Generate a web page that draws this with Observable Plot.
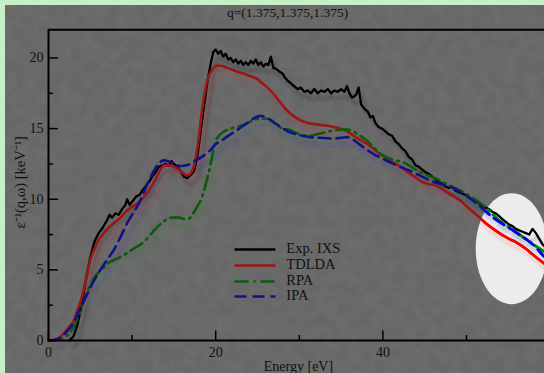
<!DOCTYPE html>
<html><head><meta charset="utf-8">
<script src="https://cdn.jsdelivr.net/npm/d3@7"></script>
<script src="https://cdn.jsdelivr.net/npm/@observablehq/plot@0.6"></script>
<style>
html,body{margin:0;padding:0;background:#c6efc6;overflow:hidden;width:544px;height:373px}
#wrap{position:absolute;left:5px;top:5px;width:539px;height:368px;background:#676767;overflow:hidden}
</style></head><body><div id="wrap"></div>
<script>
// ---------- data ----------
const title = "q=(1.375,1.375,1.375)";
const xLabel = "Energy [eV]";
const yLabel = "ε⁻¹(q,ω) [keV⁻¹]";
const seriesNames = ["Exp. IXS", "TDLDA", "RPA", "IPA"];
const xTicksMajor = [0, 20, 40];
const xTicksMinor = [10, 30, 50];
const yTicksMajor = [0, 5, 10, 15, 20];
const yTicksMinor = [2.5, 7.5, 12.5, 17.5];

const expE = [2.5,3.0,3.5,4.0,4.5,5.0,5.5,6.0,6.5,7.0,7.3,7.6,8.0,8.4,8.8,9.2,9.4,9.7,10.1,10.5,10.9,11.2,11.6,12.0,12.4,12.8,13.2,13.6,14.0,14.4,14.7,15.0,15.4,15.8,16.2,16.6,17.0,17.4,17.8,18.2,18.6,19.0,19.4,19.7,20.0,20.3,20.6,20.9,21.2,21.5,21.8,22.1,22.4,22.7,23.0,23.3,23.6,23.9,24.2,24.5,24.8,25.1,25.4,25.7,26.0,26.3,26.6,26.9,27.3,27.7,28.0,28.3,28.6,29.0,29.4,29.8,30.2,30.6,31.0,31.4,31.8,32.2,32.6,33.0,33.4,33.8,34.2,34.6,35.0,35.4,35.7,36.0,36.3,36.6,36.8,37.1,37.4,37.8,38.2,38.5,38.8,39.1,39.5,39.9,40.3,40.7,41.1,41.5,41.9,42.3,42.7,43.1,43.5,43.9,44.3,44.7,45.1,45.5,45.9,46.3,46.7,47.1,47.5,47.9,48.3,48.7,49.1,49.5,49.9,50.3,50.7,51.1,51.5,51.9,52.3,52.7,53.1,53.5,53.9,54.3,54.7,55.1,55.5,55.9,56.3,56.7,57.1,57.5,57.9,58.3,58.7,59.1,59.5,60];
const expV = [0,0.3,1.2,2.6,4.4,5.9,7.0,7.6,8.0,8.5,8.9,8.7,9.0,8.9,9.3,9.6,10.0,9.6,9.9,10.2,10.3,10.6,10.9,11.2,11.6,11.9,12.3,12.4,12.5,12.4,12.7,12.5,12.3,12.0,11.6,11.5,11.7,12.0,13.0,14.8,16.6,18.3,19.6,20.4,20.6,20.3,20.5,20.1,20.3,19.9,20.0,19.7,19.9,19.6,19.8,19.5,19.7,19.5,19.8,19.6,19.9,19.5,19.7,19.4,19.6,19.5,20.1,19.3,19.2,19.0,18.9,18.6,18.4,18.2,18.0,17.8,17.9,17.6,17.7,17.5,17.8,17.5,17.7,17.6,17.8,17.5,17.7,17.6,17.8,17.6,18.0,17.5,17.2,17.3,17.4,17.9,16.7,16.4,16.2,15.8,15.9,15.4,15.1,15.0,14.8,14.6,14.5,14.1,13.9,13.6,13.4,13.0,12.8,12.4,12.3,12.1,11.9,11.8,11.6,11.4,11.2,11.1,10.9,10.8,10.9,10.6,10.5,10.4,10.3,10.1,10.0,9.9,9.7,9.5,9.4,9.3,9.1,9.0,8.8,8.6,8.4,8.2,8.1,7.9,7.8,7.7,7.6,7.5,7.9,7.6,7.2,6.8,6.6,6.4];

const tdldaE = [0,1.0,1.8,2.5,3.0,3.5,4.1,4.6,5.0,5.5,6.0,6.6,7.2,8.0,8.6,9.2,9.8,10.4,11.0,11.6,12.2,12.8,13.4,13.8,14.4,15.0,15.6,16.2,16.7,17.1,17.5,17.9,18.3,18.7,19.1,19.6,20.1,20.6,21.2,21.8,22.5,23.3,24.2,25.0,25.6,26.2,27.0,27.8,28.5,29.3,30.1,31.0,32.0,33.4,34.2,34.9,35.7,36.5,37.3,38.2,39.0,39.7,40.5,41.3,42.1,43.0,43.8,44.5,45.3,46.1,46.9,47.7,48.5,49.3,50.2,51.3,52.2,53.2,54.2,55.1,56.1,57.1,58.1,59.2,60];
const tdldaV = [0,0.1,0.5,1.0,1.4,2.2,3.3,4.6,5.7,6.5,7.1,7.6,8.0,8.4,8.7,9.1,9.4,9.6,9.9,10.3,10.8,11.4,12.1,12.4,12.4,12.3,12.1,11.8,11.7,11.9,12.6,14.0,16.0,17.6,18.6,19.2,19.45,19.45,19.35,19.2,19.05,18.9,18.7,18.5,18.2,17.9,17.4,16.8,16.3,15.9,15.6,15.4,15.3,15.2,15.1,15.0,14.8,14.5,14.2,13.9,13.5,13.2,12.9,12.6,12.3,11.9,11.6,11.3,11.1,11.0,10.8,10.5,10.2,9.9,9.4,8.85,8.35,7.9,7.5,7.2,6.9,6.5,6.0,5.5,5.2];

const rpaE = [0,1.0,1.8,2.6,3.5,4.2,4.8,5.3,5.8,6.5,7.2,8.0,8.6,9.4,10.2,11.0,11.6,12.2,12.8,13.5,14.2,14.9,15.6,16.2,16.7,17.3,17.8,18.2,18.6,19.0,19.4,19.7,20.0,20.4,21.0,21.6,22.3,23.0,23.8,24.5,25.3,26.2,26.8,27.4,28.1,28.9,30.0,31.0,31.8,32.5,33.5,34.6,35.4,36.1,37.0,38.2,39.0,40.0,41.2,42.5,43.9,45.3,46.2,47.2,48.4,49.6,50.7,51.7,52.7,53.7,54.9,56.1,57.3,58.5,59.5,60];
const rpaV = [0,0.05,0.2,0.55,1.6,2.7,3.7,4.3,4.7,5.1,5.5,5.75,5.9,6.2,6.5,6.8,7.1,7.5,7.9,8.3,8.6,8.7,8.7,8.6,8.6,9.0,9.5,9.9,10.6,11.5,12.5,13.4,14.1,14.5,14.8,14.95,15.1,15.2,15.4,15.6,15.7,15.7,15.5,15.2,15.0,14.9,14.6,14.5,14.55,14.65,14.8,14.9,14.95,14.9,14.6,14.1,13.6,13.1,12.8,12.6,12.1,11.7,11.5,11.2,10.85,10.5,10.1,9.7,9.2,8.6,8.1,7.6,7.1,6.6,6.2,6.0];

const ipaE = [0,0.8,1.4,2.0,2.6,3.2,3.8,4.4,5.0,5.6,6.2,7.0,7.8,8.6,9.4,10.1,10.8,11.4,12.0,12.5,13.0,13.4,13.8,14.3,14.8,15.4,16.0,16.5,17.0,17.6,18.2,18.8,19.4,20.0,20.8,21.8,22.8,23.8,24.6,25.4,26.0,26.6,27.2,27.8,28.5,29.3,30.3,31.3,32.5,34.1,35.0,35.8,36.5,37.3,38.1,38.9,39.9,40.9,42.1,43.3,44.5,45.7,47.0,48.4,49.6,50.8,52.0,53.2,54.2,55.3,56.3,57.3,58.3,59.2,60];
const ipaV = [0,0.05,0.2,0.5,0.9,1.5,2.3,3.0,3.75,4.4,5.0,5.7,6.4,7.3,8.3,9.0,9.7,10.5,11.3,11.9,12.4,12.65,12.75,12.7,12.55,12.4,12.35,12.4,12.5,12.75,12.95,13.2,13.5,13.9,14.2,14.6,15.0,15.4,15.75,15.9,15.8,15.6,15.35,15.1,14.85,14.65,14.5,14.4,14.35,14.3,14.35,14.4,14.2,13.85,13.5,13.2,12.9,12.6,12.3,12.0,11.65,11.3,11.05,10.8,10.4,9.9,9.3,8.7,8.3,7.9,7.5,7.1,6.6,6.0,5.7];

// ---------- styling / layout ----------
const W = 539, H = 368;
const xRange = [43, 544.6], yRange = [335, 24.25];
const xDomain = [0, 60], yDomain = [0, 22];
const pxPerY = (yRange[0] - yRange[1]) / (yDomain[1] - yDomain[0]);
const pxPerX = (xRange[1] - xRange[0]) / (xDomain[1] - xDomain[0]);
const font = "'Liberation Serif','Times New Roman',serif";
const ink = "#111";

const zip = (E, V) => E.map((e, i) => ({E: e, V: V[i]}));
const data = {
  "Exp. IXS": zip(expE, expV),
  "TDLDA": zip(tdldaE, tdldaV),
  "RPA": zip(rpaE, rpaV),
  "IPA": zip(ipaE, ipaV)
};
const darkC = {"Exp. IXS": "#000000", "TDLDA": "#9c1616", "RPA": "#0d5a0d", "IPA": "#121288"};
const brightC = {"TDLDA": "#ff0000", "RPA": "#008a00", "IPA": "#0000ff"};
const shadowC = {"Exp. IXS": "rgb(0,0,0)", "TDLDA": "rgb(255,30,30)", "RPA": "rgb(0,170,0)", "IPA": "rgb(30,30,255)"};
const dashC = {"Exp. IXS": null, "TDLDA": null, "RPA": "14,5,2,5", "IPA": "12,6"};
const curveC = {"Exp. IXS": "linear", "TDLDA": "monotone-x", "RPA": "monotone-x", "IPA": "monotone-x"};
const widthC = {"Exp. IXS": 2.3, "TDLDA": 2.6, "RPA": 2.6, "IPA": 2.6};

// highlight ellipse (data units)
const ell = {cx: 55.4, cy: 6.5, rx: 4.3, ry: 3.93};
const ellPts = d3.range(0, 73).map(i => {
  const t = i / 72 * 2 * Math.PI;
  return {E: ell.cx + ell.rx * Math.cos(t), V: ell.cy + ell.ry * Math.sin(t)};
});

// legend layout (data units)
const legX1 = 22.25, legX2 = 27.15, legTx = 28.45;
const legY = [6.44, 5.31, 4.18, 3.12];

const marks = [];
marks.push(Plot.line(ellPts, {x: "E", y: "V", fill: "#ececec", stroke: "none", curve: "linear-closed"}));
for (const s of seriesNames) {
  marks.push(Plot.line(data[s], {x: "E", y: "V", stroke: shadowC[s], strokeOpacity: 0.16, strokeWidth: 3, dx: 4, dy: 7, curve: curveC[s], strokeDasharray: dashC[s]}));
}
for (const s of seriesNames) {
  marks.push(Plot.line(data[s], {x: "E", y: "V", stroke: darkC[s], strokeWidth: widthC[s], curve: curveC[s], strokeDasharray: dashC[s]}));
}
for (const s of ["TDLDA", "RPA", "IPA"]) {
  marks.push(Plot.line(data[s], {x: "E", y: "V", stroke: brightC[s], strokeWidth: widthC[s], curve: curveC[s], strokeDasharray: dashC[s]}));
}
// axes & frame
marks.push(
  Plot.ruleX(xTicksMajor, {x: d => d, y1: 0, y2: 9.5 / pxPerY, stroke: "#000", strokeWidth: 1.5}),
  Plot.ruleX(xTicksMinor, {x: d => d, y1: 0, y2: 5 / pxPerY, stroke: "#000", strokeWidth: 1.5}),
  Plot.ruleY(yTicksMajor, {y: d => d, x1: 0, x2: 10 / pxPerX, stroke: "#000", strokeWidth: 1.5}),
  Plot.ruleY(yTicksMinor, {y: d => d, x1: 0, x2: 5 / pxPerX, stroke: "#000", strokeWidth: 1.5}),
  Plot.ruleY([yDomain[0]], {stroke: "#000", strokeWidth: 2}),
  Plot.ruleY([yDomain[1]], {stroke: "#000", strokeWidth: 2}),
  Plot.ruleX([xDomain[0]], {stroke: "#000", strokeWidth: 2}),
  Plot.text(xTicksMajor, {x: d => d, y: 0, dy: 12, text: d => String(d), fill: ink, fontSize: 14}),
  Plot.text(yTicksMajor, {x: 0, y: d => d, dx: -5, text: d => String(d), textAnchor: "end", fill: ink, fontSize: 14}),
  Plot.text([title], {x: 28.6, y: 23.19, text: d => d, fill: ink, fontSize: 13.5}),
  Plot.text([xLabel], {x: 29.9, y: -1.84, text: d => d, fill: ink, fontSize: 14}),
  Plot.text([yLabel], {x: -3.35, y: 11.2, text: d => d, rotate: -90, fill: ink, fontSize: 14.5})
);
// legend
seriesNames.forEach((s, i) => {
  marks.push(Plot.link([s], {x1: legX1, x2: legX2, y1: legY[i], y2: legY[i], stroke: darkC[s], strokeWidth: 2.6, strokeDasharray: dashC[s]}));
  marks.push(Plot.text([s], {x: legTx, y: legY[i], dy: -1, text: d => d, textAnchor: "start", fill: ink, fontSize: 14.5}));
});

const chart = Plot.plot({
  width: W, height: H,
  marginLeft: 43, marginRight: 0, marginTop: 24, marginBottom: 33,
  x: {domain: xDomain, range: xRange, axis: null},
  y: {domain: yDomain, range: yRange, axis: null},
  style: {background: "transparent", fontFamily: font},
  marks
});

// post-process: texture, shadow blur, ellipse clip of bright lines
const svg = d3.select(chart);
const defs = svg.insert("defs", ":first-child");
const blur = defs.append("filter").attr("id", "shblur").attr("x", "-5%").attr("y", "-5%").attr("width", "110%").attr("height", "110%");
blur.append("feGaussianBlur").attr("stdDeviation", 1.8);
const tex = defs.append("filter").attr("id", "tex").attr("x", 0).attr("y", 0).attr("width", "100%").attr("height", "100%");
tex.append("feTurbulence").attr("type", "fractalNoise").attr("baseFrequency", "0.09").attr("numOctaves", 3).attr("seed", 7);
tex.append("feColorMatrix").attr("type", "matrix").attr("values", "0 0 0 0 1  0 0 0 0 1  0 0 0 0 1  0.4 0 0 0 -0.12");
const px = e => xRange[0] + (e - xDomain[0]) * pxPerX;
const py = v => yRange[0] - (v - yDomain[0]) * pxPerY;
defs.append("clipPath").attr("id", "ellclip").append("ellipse")
  .attr("cx", px(ell.cx)).attr("cy", py(ell.cy)).attr("rx", ell.rx * pxPerX).attr("ry", ell.ry * pxPerY);
svg.insert("rect", "defs + *").attr("width", W).attr("height", H).attr("fill", "#fff").attr("filter", "url(#tex)").attr("opacity", 0.22);
const brights = Object.values(brightC);
svg.selectAll("g").each(function () {
  const st = this.getAttribute("stroke");
  if (this.getAttribute("stroke-opacity") === "0.16") this.setAttribute("filter", "url(#shblur)");
  if (brights.includes(st)) this.setAttribute("clip-path", "url(#ellclip)");
});
document.getElementById("wrap").appendChild(chart);
</script></body></html>
